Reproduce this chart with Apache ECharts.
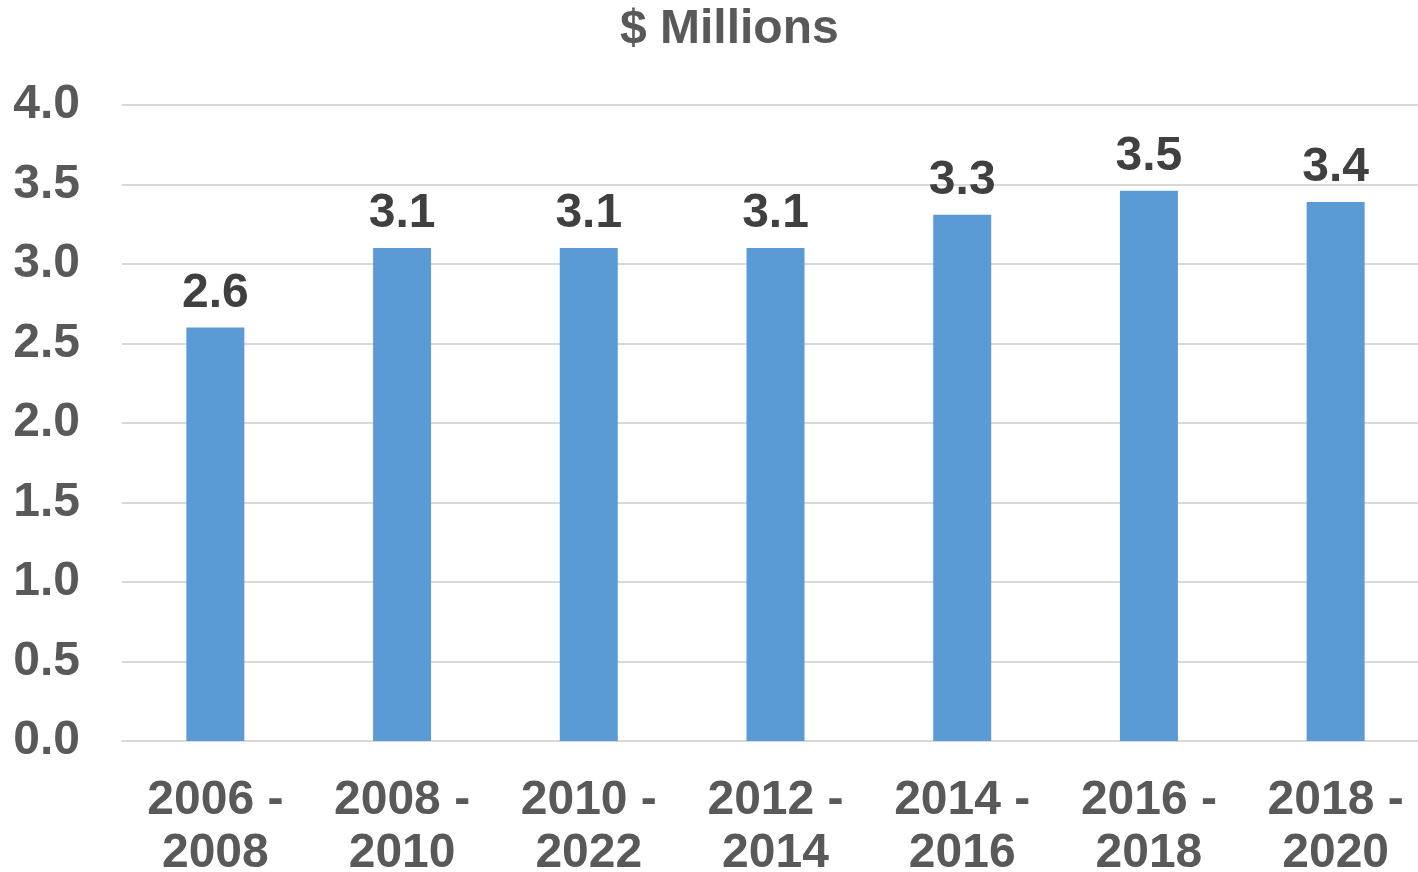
<!DOCTYPE html>
<html>
<head>
<meta charset="utf-8">
<script src="https://cdn.jsdelivr.net/npm/echarts@6/dist/echarts.min.js"></script>
<style>
html,body{margin:0;padding:0;background:#fff;overflow:hidden;}
#chart{width:1418px;height:872px;}
</style>
</head>
<body>
<div id="chart"></div>
<script>
const categories = ['2006 -\n2008', '2008 -\n2010', '2010 -\n2022', '2012 -\n2014', '2014 -\n2016', '2016 -\n2018', '2018 -\n2020'];
const values = [2.6, 3.1, 3.1, 3.1, 3.31, 3.46, 3.39];
const titleText = '$ Millions';

const chart = echarts.init(document.getElementById('chart'));
const FONT = 'Liberation Sans, Arial, sans-serif';
chart.setOption({
  animation: false,
  title: {
    text: titleText,
    left: 615,
    top: 1,
    textStyle: { fontFamily: FONT, fontSize: 48, fontWeight: 'bold', color: '#595959' }
  },
  grid: { left: 122, width: 1307, top: 105, bottom: 131, containLabel: false, outerBoundsMode: 'none' },
  xAxis: {
    type: 'category',
    data: categories,
    axisLine: { show: true, lineStyle: { color: '#d9d9d9', width: 2 } },
    axisTick: { show: false },
    axisLabel: {
      fontFamily: FONT, fontSize: 48, fontWeight: 'bold', color: '#595959',
      lineHeight: 53, margin: 33, interval: 0
    }
  },
  yAxis: {
    type: 'value',
    min: 0, max: 4, interval: 0.5,
    axisLine: { show: false },
    axisTick: { show: false },
    splitLine: { lineStyle: { color: '#d9d9d9', width: 2 } },
    axisLabel: {
      fontFamily: FONT, fontSize: 48, fontWeight: 'bold', color: '#595959',
      margin: 42,
      formatter: v => v.toFixed(1)
    }
  },
  series: [{
    type: 'bar',
    data: values,
    barWidth: 58,
    itemStyle: { color: '#5b9bd5' },
    label: {
      show: true, position: 'top', distance: 10,
      fontFamily: FONT, fontSize: 48, fontWeight: 'bold', color: '#404040',
      formatter: p => p.value.toFixed(1)
    }
  }]
});
</script>
</body>
</html>
